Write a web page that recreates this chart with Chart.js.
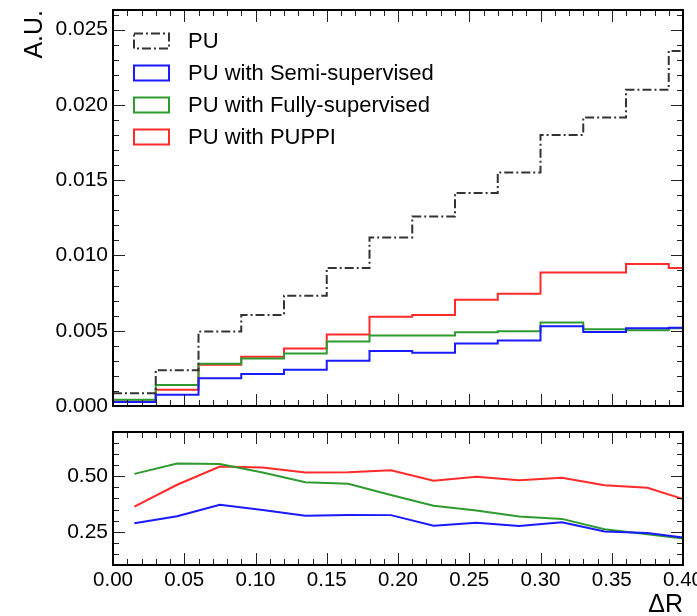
<!DOCTYPE html>
<html><head><meta charset="utf-8">
<script src="https://cdn.jsdelivr.net/npm/chart.js@4.4.1/dist/chart.umd.min.js"></script>
<style>
html,body{margin:0;padding:0;background:#fff;}
#wrap{position:relative;width:697px;height:616px;overflow:hidden;background:#fff;}
#top{position:absolute;left:0;top:0;}
#bot{position:absolute;left:0;top:420px;}
</style></head><body>
<div id="wrap">
<canvas id="top" width="697" height="420"></canvas>
<canvas id="bot" width="697" height="196"></canvas>
</div>
<script>
// ---- data ----
const binEdges = [0.00,0.03,0.06,0.09,0.12,0.15,0.18,0.21,0.24,0.27,0.30,0.33,0.36,0.39,0.42];
const binCenters = [0.015,0.045,0.075,0.105,0.135,0.165,0.195,0.225,0.255,0.285,0.315,0.345,0.375,0.405];
const puValues    = [0.00084,0.00238,0.00494,0.00605,0.00733,0.00916,0.01119,0.01258,0.01415,0.01550,0.01800,0.01916,0.02100,0.02358];
const semiValues  = [0.00026,0.00075,0.00185,0.00212,0.00240,0.00300,0.00366,0.00353,0.00415,0.00435,0.00530,0.00492,0.00517,0.00519];
const fullyValues = [0.00042,0.00139,0.00280,0.00316,0.00349,0.00428,0.00468,0.00468,0.00490,0.00497,0.00554,0.00510,0.00503,0.00517];
const puppiValues = [0.00030,0.00108,0.00274,0.00327,0.00382,0.00475,0.00592,0.00605,0.00706,0.00746,0.00887,0.00887,0.00943,0.00916];
const semiRatio   = [0.288,0.320,0.372,0.348,0.322,0.326,0.325,0.277,0.291,0.276,0.293,0.251,0.244,0.220];
const fullyRatio  = [0.511,0.558,0.556,0.517,0.473,0.466,0.416,0.367,0.346,0.319,0.308,0.261,0.239,0.216];
const puppiRatio  = [0.363,0.462,0.544,0.540,0.517,0.518,0.527,0.480,0.498,0.482,0.494,0.460,0.448,0.388];
const seriesLabels = ['PU','PU with Semi-supervised','PU with Fully-supervised','PU with PUPPI'];
const xTitle = 'ΔR';
const yTitle = 'A.U.';

// ---- styles ----
const FONT = '"Liberation Sans", Arial, Helvetica, sans-serif';
Chart.defaults.font.family = FONT;
Chart.defaults.color = '#000';
const colors = ['#333333','#1a1aff','#2f9a2f','#ff2a2a'];
const dashes = [[9,3,2,3],[],[],[]];

function histPoints(vals){
  const pts = vals.map((v,i)=>({x:binEdges[i], y:v}));
  pts.push({x:binEdges[vals.length], y:vals[vals.length-1]});
  return pts;
}
function ratioPoints(vals){ return vals.map((v,i)=>({x:binCenters[i], y:v})); }

const frameTicks = {
  id:'frameTicks',
  afterDatasetsDraw(chart, args, opts){
    const ctx = chart.ctx, a = chart.chartArea;
    ctx.save();
    ctx.strokeStyle = '#222'; ctx.lineWidth = 1;
    const draw = (scale, major, minor, horiz) => {
      const n = Math.floor((scale.max - scale.min)/minor + 1e-6);
      for (let i=0;i<=n;i++){
        const v = scale.min + i*minor;
        const isMajor = Math.abs(v/major - Math.round(v/major)) < 1e-6;
        const len = isMajor ? 12 : 6;
        const p = Math.round(scale.getPixelForValue(v)) + 0.5;
        ctx.beginPath();
        if (horiz){ ctx.moveTo(p,a.bottom); ctx.lineTo(p,a.bottom-len); ctx.moveTo(p,a.top); ctx.lineTo(p,a.top+len); }
        else { ctx.moveTo(a.left,p); ctx.lineTo(a.left+len,p); ctx.moveTo(a.right,p); ctx.lineTo(a.right-len,p); }
        ctx.stroke();
      }
    };
    draw(chart.scales.x, opts.xMajor, opts.xMinor, true);
    draw(chart.scales.y, opts.yMajor, opts.yMinor, false);
    ctx.strokeStyle = '#000'; ctx.lineWidth = 2;
    ctx.strokeRect(a.left, a.top, a.right-a.left, a.bottom-a.top);
    ctx.restore();
  }
};

const boxLegend = {
  id:'boxLegend',
  afterDraw(chart, args, opts){
    if (!opts.show) return;
    const ctx = chart.ctx, a = chart.chartArea;
    ctx.save();
    chart.data.datasets.forEach((ds,i)=>{
      const cy = a.top + 31 + i*32;
      ctx.strokeStyle = ds.borderColor; ctx.lineWidth = 2;
      ctx.setLineDash(ds.borderDash || []);
      ctx.strokeRect(a.left + 21, cy - 7.5, 35, 15);
      ctx.setLineDash([]);
      ctx.fillStyle = '#000';
      ctx.font = '22px ' + FONT;
      ctx.textBaseline = 'middle';
      ctx.fillText(ds.label, a.left + 75, cy + 1);
    });
    ctx.restore();
  }
};

const yAfterFit = s => { s.width = 113; s.paddingTop = 0; s.paddingBottom = 0; };

new Chart(document.getElementById('top'), {
  type:'line',
  data:{ datasets:[puValues,semiValues,fullyValues,puppiValues].map((v,i)=>({
    label: seriesLabels[i], data: histPoints(v), stepped: true,
    borderColor: colors[i], backgroundColor:'rgba(0,0,0,0)', borderWidth:2,
    borderDash: dashes[i], pointRadius:0, fill:false, clip:0
  }))},
  options:{
    responsive:false, animation:false, events:[],
    layout:{ padding:{ left:0, right:14, top:10, bottom:14 } },
    plugins:{ legend:{display:false}, tooltip:{enabled:false},
      frameTicks:{ xMajor:0.05, xMinor:0.01, yMajor:0.005, yMinor:0.001 },
      boxLegend:{ show:true } },
    scales:{
      x:{ type:'linear', min:0, max:0.4, display:false },
      y:{ type:'linear', min:0, max:0.0263,
        grid:{display:false, drawTicks:false}, border:{display:false},
        ticks:{ stepSize:0.005, includeBounds:false, padding:5, font:{size:21}, color:'#000',
          callback:v=>Number(v).toFixed(3) },
        title:{ display:true, text:yTitle, align:'end', font:{size:25}, padding:{top:20,bottom:0}, color:'#000' },
        afterFit: yAfterFit }
    }
  },
  plugins:[frameTicks, boxLegend]
});

new Chart(document.getElementById('bot'), {
  type:'line',
  data:{ datasets:[semiRatio,fullyRatio,puppiRatio].map((v,i)=>({
    label: seriesLabels[i+1], data: ratioPoints(v),
    borderColor: colors[i+1], borderWidth:2, pointRadius:0, fill:false, tension:0, clip:0
  }))},
  options:{
    responsive:false, animation:false, events:[],
    layout:{ padding:{ left:0, right:14, top:12, bottom:0 } },
    plugins:{ legend:{display:false}, tooltip:{enabled:false},
      frameTicks:{ xMajor:0.05, xMinor:0.01, yMajor:0.25, yMinor:0.05 },
      boxLegend:{ show:false } },
    scales:{
      x:{ type:'linear', min:0, max:0.4,
        grid:{display:false, drawTicks:false}, border:{display:false},
        ticks:{ stepSize:0.05, autoSkip:false, maxRotation:0, padding:3, font:{size:20.5}, color:'#000',
          callback:v=>Number(v).toFixed(2) },
        title:{ display:true, text:xTitle, align:'end', font:{size:25, lineHeight:0.8}, padding:{top:0,bottom:1}, color:'#000' },
        afterFit: s => { s.height = 51; s.paddingLeft = 0; s.paddingRight = 0; } },
      y:{ type:'linear', min:0.1, max:0.7,
        grid:{display:false, drawTicks:false}, border:{display:false},
        ticks:{ stepSize:0.25, includeBounds:false, padding:5, font:{size:21}, color:'#000',
          callback:v=>Number(v).toFixed(2) },
        afterFit: yAfterFit }
    }
  },
  plugins:[frameTicks, boxLegend]
});
</script>
</body></html>
